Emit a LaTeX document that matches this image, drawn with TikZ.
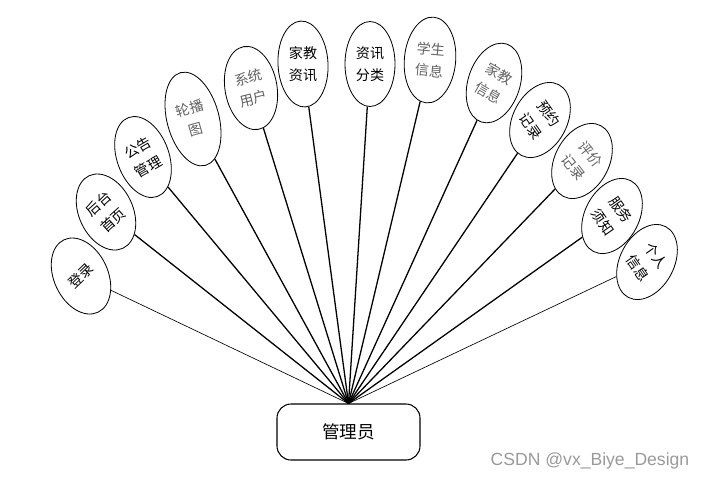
\documentclass[tikz,border=0pt]{standalone}
\usepackage{fontspec}
\usepackage{tikz}
\usetikzlibrary{shapes.geometric,positioning}
\newfontfamily\cjk{Noto Sans CJK SC}
\setsansfont{Liberation Sans}

\begin{document}
\begin{tikzpicture}[x=0.3mm,y=-0.3mm,
ent/.style={draw,ellipse,line width=0.7pt,inner sep=0pt,minimum width=1.62cm,minimum height=2.4cm},
entl/.style={ent,minimum width=1.56cm,minimum height=2.88cm},
lbl/.style={align=center,font=\cjk\fontsize{12}{18.5}\selectfont,text=black},
lblg/.style={lbl,text=black!62},
conn/.style={line width=1.1pt},
thinconn/.style={line width=0.55pt},
root/.style={draw,rounded corners=0.42cm,line width=0.9pt,minimum width=4.29cm,minimum height=1.68cm,font=\cjk\fontsize{15}{18}\selectfont}
]
\useasboundingbox (0,0) rectangle (707,481);
\node[root] (mgr) at (348.5,432) {管理员};
\coordinate (hub) at (mgr.north);
% left side
\node[ent,rotate=25] (e1) at (81,276) {};
\node[lbl,rotate=44] (t1) at (e1) {登录};
\node[ent,rotate=25] (e2) at (106,212) {};
\node[lbl,rotate=42] (t2) at (e2) {后台\\首页};
\node[ent,rotate=20,minimum width=1.56cm,minimum height=2.52cm] (e3) at (143,157) {};
\node[lbl,rotate=30] (t3) at (e3) {公告\\管理};
\node[entl,rotate=15] (e4) at (193,119) {};
\node[lblg,rotate=16] (t4) at (e4) {轮播\\图};
\node[ent,rotate=10,minimum width=1.56cm,minimum height=2.52cm] (e5) at (251,88) {};
\node[lblg,rotate=14] (t5) at (e5) {系统\\用户};
% middle
\node[ent,rotate=3,minimum width=1.5cm,minimum height=2.58cm] (e6) at (303,64) {};
\node[lbl] (t6) at (e6) {家教\\资讯};
\node[ent,minimum width=1.5cm,minimum height=2.55cm] (e7) at (370,64) {};
\node[lbl] (t7) at (e7) {资讯\\分类};
\node[ent,rotate=-5,minimum width=1.54cm,minimum height=2.58cm] (e8) at (430,60) {};
\node[lblg,rotate=-5] (t8) at (e8) {学生\\信息};
% right side
\node[ent,rotate=-18,minimum width=1.56cm,minimum height=2.46cm] (e9) at (494,83) {};
\node[lblg,rotate=-30] (t9) at (e9) {家教\\信息};
\node[ent,rotate=-28] (e10) at (540,120) {};
\node[lbl,rotate=-55] (t10) at (e10) {预约\\记录};
\node[ent,rotate=-28] (e11) at (582,161) {};
\node[lblg,rotate=-52] (t11) at (e11) {评价\\记录};
\node[ent,rotate=-28] (e12) at (612,216) {};
\node[lbl,rotate=-55] (t12) at (e12) {服务\\须知};
\node[ent,rotate=-28] (e13) at (647,262) {};
\node[lbl,rotate=-55] (t13) at (e13) {个人\\信息};
% connectors
\draw[thinconn] (hub) -- (e1);
\draw[conn] (hub) -- (e2);
\draw[conn] (hub) -- (e3);
\draw[conn] (hub) -- (e4);
\draw[conn] (hub) -- (e5);
\draw[conn] (hub) -- (e6);
\draw[conn] (hub) -- (e7);
\draw[conn] (hub) -- (e8);
\draw[conn] (hub) -- (e9);
\draw[conn] (hub) -- (e10);
\draw[conn] (hub) -- (e11);
\draw[conn] (hub) -- (e12);
\draw[thinconn] (hub) -- (e13);
\node[font=\sffamily\fontsize{15}{18}\selectfont,text=black!40] (mark) at (590,461) {CSDN @vx\_Biye\_Design};
\end{tikzpicture}
\end{document}
